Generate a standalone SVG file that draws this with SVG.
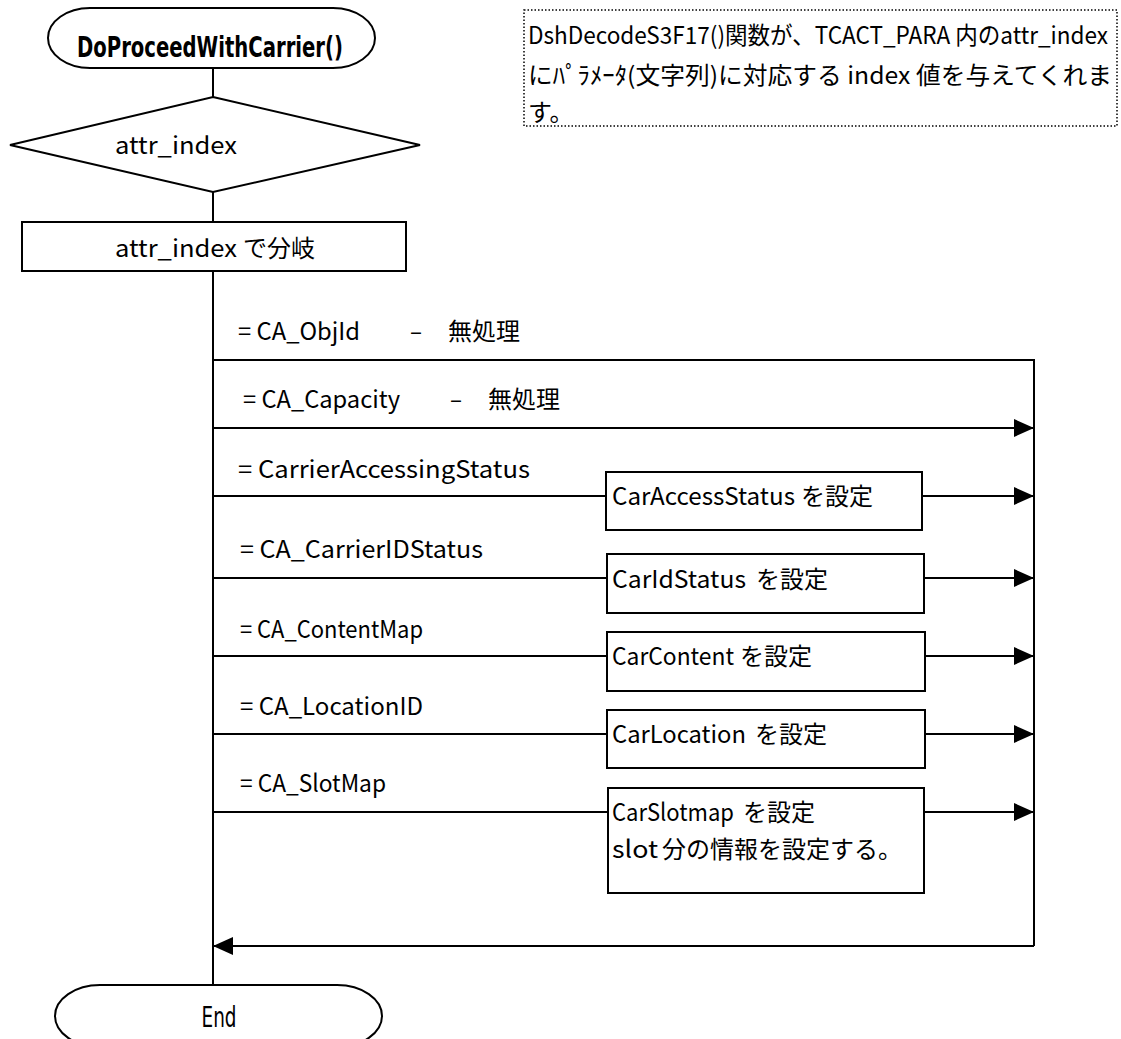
<svg xmlns="http://www.w3.org/2000/svg" width="1121" height="1039" viewBox="0 0 1121 1039">
  <style>
    .shape { fill: #fff; stroke: #000; stroke-width: 2; }
    .wire { fill: none; stroke: #000; stroke-width: 2; }
    .note { fill: none; stroke: #000; stroke-width: 1.5; stroke-dasharray: 1.5 2; }
    .t { font-family: "Noto Sans CJK JP", "Liberation Sans", sans-serif; font-size: 24px; fill: #000; }
    .title { font-family: "DejaVu Sans", "Liberation Sans", sans-serif; font-size: 28px; font-weight: bold; fill: #000; }
    .endt { font-family: "DejaVu Sans", "Liberation Sans", sans-serif; font-size: 28px; fill: #000; }
  </style>
  <defs>
    <marker id="arrow" markerUnits="userSpaceOnUse" markerWidth="22" markerHeight="20" refX="20" refY="9" orient="auto">
      <path d="M0,0 L20,9 L0,18 Z" fill="#000"/>
    </marker>
  </defs>
  <rect width="1121" height="1039" fill="#fff"/>

  <!-- connectors -->
  <g id="connectors">
    <line class="wire" x1="213" y1="68" x2="213" y2="97"/>
    <line class="wire" x1="213" y1="192" x2="213" y2="222"/>
    <line class="wire" x1="213" y1="271" x2="213" y2="985"/>
    <!-- top rail and right rail -->
    <polyline class="wire" points="213,360 1034,360 1034,946"/>
    <!-- CA_Capacity -->
    <line class="wire" x1="213" y1="428" x2="1034" y2="428" marker-end="url(#arrow)"/>
    <!-- CarrierAccessingStatus -->
    <line class="wire" x1="213" y1="496" x2="606" y2="496"/>
    <line class="wire" x1="922" y1="496" x2="1034" y2="496" marker-end="url(#arrow)"/>
    <!-- CA_CarrierIDStatus -->
    <line class="wire" x1="213" y1="578" x2="607" y2="578"/>
    <line class="wire" x1="924" y1="578" x2="1034" y2="578" marker-end="url(#arrow)"/>
    <!-- CA_ContentMap -->
    <line class="wire" x1="213" y1="656" x2="607" y2="656"/>
    <line class="wire" x1="925" y1="656" x2="1034" y2="656" marker-end="url(#arrow)"/>
    <!-- CA_LocationID -->
    <line class="wire" x1="213" y1="734" x2="607" y2="734"/>
    <line class="wire" x1="925" y1="734" x2="1034" y2="734" marker-end="url(#arrow)"/>
    <!-- CA_SlotMap -->
    <line class="wire" x1="213" y1="812" x2="608" y2="812"/>
    <line class="wire" x1="924" y1="812" x2="1034" y2="812" marker-end="url(#arrow)"/>
    <!-- return to main flow -->
    <line class="wire" x1="1034" y1="946" x2="213" y2="946" marker-end="url(#arrow)"/>
  </g>

  <!-- branch labels -->
  <g id="branch-labels">
    <text class="t" x="238" y="340" textLength="122" lengthAdjust="spacingAndGlyphs">= CA_ObjId</text>
    <text class="t" x="410" y="340" textLength="12" lengthAdjust="spacingAndGlyphs">–</text>
    <text class="t" x="448" y="340">無処理</text>
    <text class="t" x="243" y="408" textLength="157" lengthAdjust="spacingAndGlyphs">= CA_Capacity</text>
    <text class="t" x="450" y="408" textLength="12" lengthAdjust="spacingAndGlyphs">–</text>
    <text class="t" x="488" y="408">無処理</text>
    <text class="t" x="238" y="478" textLength="292" lengthAdjust="spacingAndGlyphs">= CarrierAccessingStatus</text>
    <text class="t" x="240" y="558" textLength="243" lengthAdjust="spacingAndGlyphs">= CA_CarrierIDStatus</text>
    <text class="t" x="240" y="638" textLength="183" lengthAdjust="spacingAndGlyphs">= CA_ContentMap</text>
    <text class="t" x="240" y="715" textLength="183" lengthAdjust="spacingAndGlyphs">= CA_LocationID</text>
    <text class="t" x="240" y="792" textLength="146" lengthAdjust="spacingAndGlyphs">= CA_SlotMap</text>
  </g>

  <g id="start">
    <rect class="shape" x="48" y="8" width="327" height="60" rx="42" ry="30"/>
    <text class="title" x="77" y="57" textLength="266" lengthAdjust="spacingAndGlyphs">DoProceedWithCarrier()</text>
  </g>

  <g id="decision">
    <polygon class="shape" points="213,97 420,145 213,192 10,145"/>
    <text class="t" x="115" y="154" textLength="122" lengthAdjust="spacingAndGlyphs">attr_index</text>
  </g>

  <g id="branch">
    <rect class="shape" x="22" y="222" width="384" height="49"/>
    <text class="t" x="115" y="257" textLength="122" lengthAdjust="spacingAndGlyphs">attr_index</text>
    <text class="t" x="243" y="257">で分岐</text>
  </g>

  <g id="note">
    <rect class="note" x="524" y="10" width="593" height="116"/>
    <text class="t" x="528" y="44" textLength="580" lengthAdjust="spacingAndGlyphs">DshDecodeS3F17()関数が、TCACT_PARA 内のattr_index</text>
    <text class="t" x="528" y="84" textLength="584" lengthAdjust="spacingAndGlyphs">にﾊﾟﾗﾒｰﾀ(文字列)に対応する index 値を与えてくれま</text>
    <text class="t" x="528" y="121">す。</text>
  </g>

  <g id="set-access-status">
    <rect class="shape" x="606" y="472" width="316" height="58"/>
    <text class="t" x="612" y="505" textLength="183" lengthAdjust="spacingAndGlyphs">CarAccessStatus</text>
    <text class="t" x="801" y="505">を設定</text>
  </g>

  <g id="set-id-status">
    <rect class="shape" x="607" y="554" width="317" height="59"/>
    <text class="t" x="612" y="588" textLength="134" lengthAdjust="spacingAndGlyphs">CarIdStatus</text>
    <text class="t" x="756" y="588">を設定</text>
  </g>

  <g id="set-content">
    <rect class="shape" x="607" y="632" width="318" height="59"/>
    <text class="t" x="612" y="665" textLength="122" lengthAdjust="spacingAndGlyphs">CarContent</text>
    <text class="t" x="740" y="665">を設定</text>
  </g>

  <g id="set-location">
    <rect class="shape" x="607" y="710" width="318" height="58"/>
    <text class="t" x="612" y="743" textLength="134" lengthAdjust="spacingAndGlyphs">CarLocation</text>
    <text class="t" x="755" y="743">を設定</text>
  </g>

  <g id="set-slotmap">
    <rect class="shape" x="608" y="788" width="316" height="105"/>
    <text class="t" x="612" y="821" textLength="122" lengthAdjust="spacingAndGlyphs">CarSlotmap</text>
    <text class="t" x="743" y="821">を設定</text>
    <text class="t" x="612" y="858" textLength="46" lengthAdjust="spacingAndGlyphs">slot</text>
    <text class="t" x="662" y="858">分の情報を設定する。</text>
  </g>

  <g id="end">
    <rect class="shape" x="55" y="985" width="327" height="62" rx="45" ry="31"/>
    <text class="endt" x="219" y="1027" text-anchor="middle" textLength="35" lengthAdjust="spacingAndGlyphs">End</text>
  </g>
</svg>
